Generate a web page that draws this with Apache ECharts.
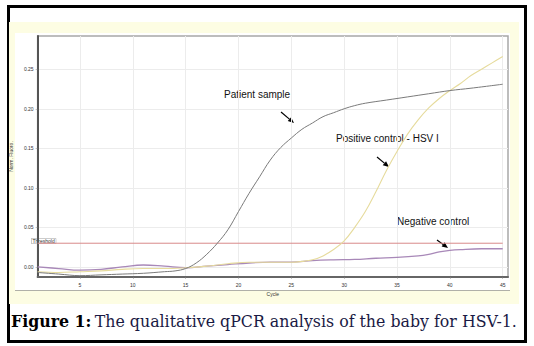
<!DOCTYPE html>
<html><head><meta charset="utf-8">
<script src="https://cdn.jsdelivr.net/npm/echarts@6/dist/echarts.min.js"></script>
<style>
html,body{margin:0;padding:0;background:#fff;}
#wrap{position:relative;width:534px;height:346px;overflow:hidden;}
#frame{position:absolute;left:7px;top:5px;width:514px;height:332px;border:3px solid #000;background:#fff;}
#yellow{position:absolute;left:9px;top:22px;width:510px;height:282px;background:#fdfde3;}
#white{position:absolute;left:15px;top:33px;width:495px;height:257px;background:#fff;border-bottom:1px solid #b0b0a8;}
#chart{position:absolute;left:0;top:0;width:534px;height:346px;}
</style>
</head><body>
<div id="wrap">
<div id="frame"></div>
<div id="yellow"></div>
<div id="white"></div>
<div id="chart"></div>
</div>
<script>
// Data
const patientCycles = [1,3,5,7,9,11,13,14,15,16,17,18,19,20,21,22,23,24,25,26,27,28,29,30,31,32,34,36,38,40,42,45];
const patientValues = [-0.007,-0.009,-0.011,-0.010,-0.009,-0.008,-0.006,-0.005,-0.002,0.005,0.016,0.030,0.047,0.070,0.093,0.114,0.135,0.151,0.163,0.174,0.182,0.190,0.195,0.200,0.204,0.207,0.211,0.215,0.219,0.223,0.226,0.231];
const positiveCycles = [1,3,5,7,9,11,13,15,17,19,21,23,25,26,27,28,29,30,31,32,33,34,35,36,37,38,39,40,41,42,43,44,45];
const positiveValues = [-0.006,-0.007,-0.006,-0.005,-0.003,-0.002,-0.002,-0.001,0.001,0.004,0.006,0.006,0.006,0.007,0.009,0.014,0.022,0.033,0.050,0.070,0.095,0.122,0.146,0.168,0.186,0.201,0.213,0.223,0.232,0.242,0.250,0.258,0.266];
const negativeCycles = [1,3,5,7,9,11,13,15,17,19,21,23,25,27,29,31,33,35,37,38,39,40,41,43,45];
const negativeValues = [0.000,-0.002,-0.004,-0.003,0.000,0.0025,0.001,-0.001,0.001,0.003,0.005,0.006,0.006,0.008,0.009,0.0095,0.011,0.012,0.014,0.016,0.019,0.021,0.022,0.023,0.023];
const thresholdCycles = [1,45];
const thresholdValues = [0.03,0.03];
const xTicks = [5,10,15,20,25,30,35,40,45];
const yTicks = [0,0.05,0.10,0.15,0.20,0.25];

function pairs(xs, ys){ return xs.map((x,i)=>[x,ys[i]]); }

function arrow(x1,y1,x2,y2){
  const dx=x2-x1, dy=y2-y1, L=Math.hypot(dx,dy), ux=dx/L, uy=dy/L;
  const hl=6, hw=2.6;
  const bx=x2-ux*hl, by=y2-uy*hl;
  return [
    {type:'line', shape:{x1:x1,y1:y1,x2:bx,y2:by}, style:{stroke:'#000',lineWidth:1.2}},
    {type:'polygon', shape:{points:[[x2,y2],[bx-uy*hw,by+ux*hw],[bx+uy*hw,by-ux*hw]]}, style:{fill:'#000'}}
  ];
}

const chart = echarts.init(document.getElementById('chart'), null, {renderer:'svg'});
const tinyLabel = {fontSize:5, color:'#333', fontFamily:'Liberation Sans'};
const annot = {fontSize:10, fill:'#111', fontFamily:'Liberation Sans'};

chart.setOption({
  backgroundColor:'transparent',
  animation:false,
  grid:{left:30, right:26, top:36, bottom:69, show:true, backgroundColor:'#fff', borderColor:'#a8a8a8', borderWidth:1.5},
  xAxis:{
    type:'value', min:1, max:45.5,
    name:'Cycle', nameLocation:'middle', nameGap:11, nameTextStyle:tinyLabel,
    axisLine:{show:true, onZero:false, lineStyle:{color:'#666', width:2}},
    axisTick:{show:true, length:2, customValues:xTicks, lineStyle:{color:'#888', width:0.5}},
    axisLabel:{customValues:xTicks, fontSize:5, color:'#333', margin:5, fontFamily:'Liberation Sans'},
    splitLine:{show:true, lineStyle:{color:'#ececec', width:1}}
  },
  yAxis:{
    type:'value', min:-0.0127, max:0.292,
    name:'Norm. Fluoro.', nameLocation:'middle', nameGap:11, nameRotate:90, nameTextStyle:tinyLabel,
    axisLine:{show:true, onZero:false, lineStyle:{color:'#555', width:2}},
    axisTick:{show:true, length:2, customValues:yTicks, lineStyle:{color:'#888', width:0.5}},
    axisLabel:{customValues:yTicks, fontSize:5, color:'#333', margin:4, fontFamily:'Liberation Sans', formatter:v=>v.toFixed(2)},
    splitLine:{show:true, lineStyle:{color:'#ececec', width:1}}
  },
  series:[
    {name:'Threshold', type:'line', data:pairs(thresholdCycles,thresholdValues), symbol:'none', lineStyle:{color:'#d88a8a', width:1}},
    {name:'Negative control', type:'line', data:pairs(negativeCycles,negativeValues), symbol:'none', smooth:0.4, lineStyle:{color:'#a888b8', width:1.3}},
    {name:'Positive control - HSV I', type:'line', data:pairs(positiveCycles,positiveValues), symbol:'none', smooth:0.4, lineStyle:{color:'#e6db9c', width:1.1}},
    {name:'Patient sample', type:'line', data:pairs(patientCycles,patientValues), symbol:'none', smooth:0.4, lineStyle:{color:'#7a7a7a', width:1}}
  ],
  graphic:[
    {type:'text', left:31, top:238, style:{text:'Threshold', fontSize:5, fill:'#333', fontFamily:'Liberation Sans', backgroundColor:'#fff', borderColor:'#999', borderWidth:0.5, padding:[0,1]}},
    {type:'text', x:224, y:94, style:{text:'Patient sample', ...annot, verticalAlign:'middle'}},
    {type:'text', x:336, y:138, style:{text:'Positive control - HSV I', ...annot, verticalAlign:'middle'}},
    {type:'text', x:397, y:221, style:{text:'Negative control', ...annot, verticalAlign:'middle'}},
    ...arrow(281,112,294,123),
    ...arrow(377,157,389,167),
    ...arrow(437,240,448,248),
    {type:'text', x:11, y:321, style:{
      text:'{b|Figure 1:} {n|The qualitative qPCR analysis of the baby for HSV-1.}',
      verticalAlign:'middle',
      rich:{
        b:{fontFamily:'DejaVu Serif', fontWeight:'bold', fontSize:15.8, fill:'#000'},
        n:{fontFamily:'DejaVu Serif', fontSize:15.8, fill:'#1a1a44'}
      }
    }}
  ]
});
</script>
</body></html>
